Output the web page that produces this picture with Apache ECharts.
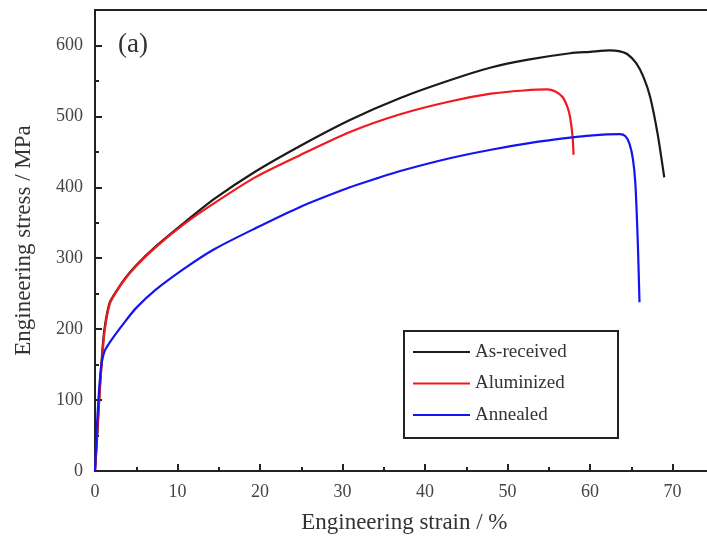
<!DOCTYPE html>
<html>
<head>
<meta charset="utf-8">
<script src="https://cdn.jsdelivr.net/npm/echarts@6/dist/echarts.min.js"></script>
<style>html,body{margin:0;padding:0;background:#fff;}#c{width:707px;height:539px;}</style>
</head>
<body>
<div id="c"></div>
<script>
var seriesNames = ['As-received', 'Aluminized', 'Annealed'];
var xTickLabels = [0, 10, 20, 30, 40, 50, 60, 70];
var yTickLabels = [0, 100, 200, 300, 400, 500, 600];

var asReceived = [[0,0],[0.3,55],[0.6,120],[1,185],[1.3,212],[1.8,238],[2.5,252],[3.6,271],[5,290],[7.3,316],[10.9,351],[14.5,384],[19.4,422],[24.8,458],[30.9,495],[37,526],[43,551],[48,569],[52.5,580],[57.6,589],[60,591],[62.4,593],[63.5,592],[64.5,588],[65.6,575],[66.5,555],[67.3,527],[68.2,475],[69,414]];
var aluminized = [[0,0],[0.4,81],[0.8,150],[1.2,200],[1.8,236],[2.5,251],[3.6,270],[5,289],[7.3,315],[10.9,349],[14.5,378],[19.4,414],[24.8,445],[30.9,478],[37,503],[43,521],[48,532],[52,536.5],[54.8,538],[55.8,535],[56.7,527],[57.3,512],[57.6,498],[57.9,470],[58,446]];
var annealed = [[0,0],[0.2,55],[0.5,115],[0.8,152],[1.2,170],[2,185],[3.6,210],[5,230],[7.3,255],[10.9,286],[14.5,313],[19.4,342],[24.8,372],[30.9,400],[34,412],[37,423],[43,441],[48,453],[53,463],[57.6,470],[60,473],[63.6,475],[64.3,472],[64.8,461],[65.2,440],[65.5,405],[65.8,320],[66,238]];

var colors = ['#1a1a1a', '#f0191e', '#1414f0'];
var serif = '"Liberation Serif", "DejaVu Serif", serif';

var chart = echarts.init(document.getElementById('c'), null, {renderer: 'canvas'});
function mkSeries(name, data, color) {
  return {
    name: name, type: 'line', data: data, showSymbol: false, symbol: 'none',
    smooth: 0.25, lineStyle: {color: color, width: 2.2}, itemStyle: {color: color}, z: 3
  };
}
chart.setOption({
  animation: false,
  backgroundColor: '#fff',
  grid: {left: 95, top: 10, width: 618.75, height: 461, show: true, borderColor: '#222', borderWidth: 2,
    backgroundColor: 'transparent', containLabel: false, outerBoundsMode: 'none'},
  xAxis: {
    type: 'value', min: 0, max: 75, interval: 10,
    name: 'Engineering strain / %', nameLocation: 'middle', nameGap: 40,
    nameTextStyle: {fontFamily: serif, fontSize: 23, color: '#333'},
    axisLine: {show: true, onZero: false, lineStyle: {color: '#222', width: 2}},
    axisTick: {show: true, inside: true, length: 7, lineStyle: {color: '#222', width: 2}},
    minorTick: {show: true, splitNumber: 2, length: 4, lineStyle: {color: '#222', width: 2}},
    splitLine: {show: false},
    axisLabel: {margin: 12, fontFamily: serif, fontSize: 18, color: '#444',
      formatter: function (v) { return xTickLabels.indexOf(v) >= 0 ? String(v) : ''; }}
  },
  yAxis: {
    type: 'value', min: 0, max: 650, interval: 100,
    name: 'Engineering stress / MPa', nameLocation: 'middle', nameGap: 60,
    nameTextStyle: {fontFamily: serif, fontSize: 23, color: '#333'},
    axisLine: {show: true, onZero: false, lineStyle: {color: '#222', width: 2}},
    axisTick: {show: true, inside: true, length: 7, lineStyle: {color: '#222', width: 2}},
    minorTick: {show: true, splitNumber: 2, length: 4, lineStyle: {color: '#222', width: 2}},
    splitLine: {show: false},
    axisLabel: {margin: 12, fontFamily: serif, fontSize: 18, color: '#444',
      formatter: function (v) { return yTickLabels.indexOf(v) >= 0 ? String(v) : ''; }}
  },
  legend: {
    orient: 'vertical', left: 413, top: 342.5, padding: 0,
    icon: 'rect', itemWidth: 57, itemHeight: 2, itemGap: 12.5,
    data: seriesNames,
    textStyle: {fontFamily: serif, fontSize: 19, color: '#333'}
  },
  graphic: [
    {type: 'rect', left: 403, top: 330, shape: {width: 214, height: 107},
     style: {fill: 'transparent', stroke: '#222', lineWidth: 2}, z: 10},
    {type: 'text', left: 118, top: 31, style: {text: '(a)', font: '27px ' + serif, fill: '#333'}, z: 10}
  ],
  series: [
    mkSeries(seriesNames[0], asReceived, colors[0]),
    mkSeries(seriesNames[1], aluminized, colors[1]),
    mkSeries(seriesNames[2], annealed, colors[2])
  ]
});
</script>
</body>
</html>
